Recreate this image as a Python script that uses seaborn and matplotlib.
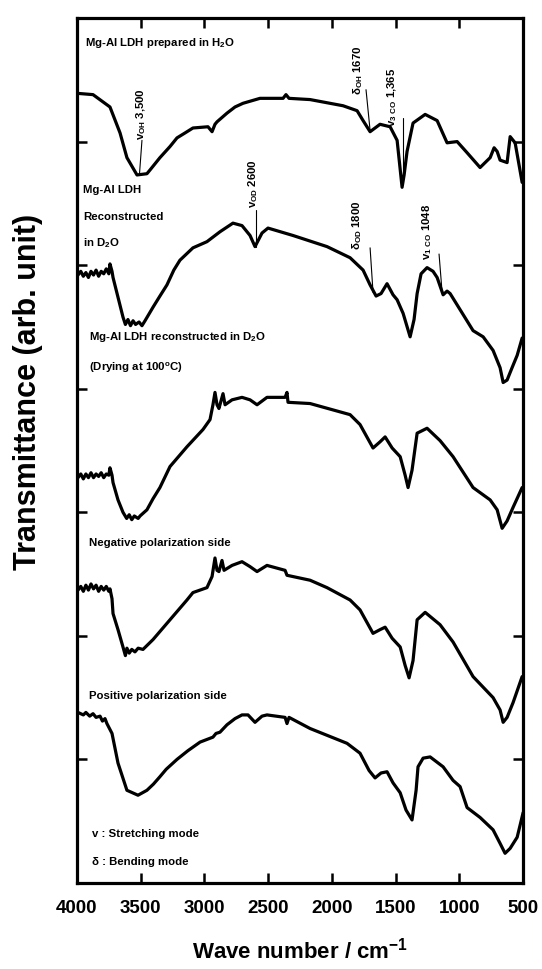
import matplotlib
matplotlib.use("Agg")
import matplotlib.pyplot as plt
import seaborn as sns

# FTIR spectra (wave number in cm-1, stacked transmittance in arb. units)
wn_h2o = [3992, 3874, 3741, 3662, 3608, 3529, 3451, 3427, 3349, 3270, 3215, 3152, 3090, 2972,
          2940, 2917, 2901, 2823, 2760, 2697, 2564, 2383, 2360, 2336, 2171, 1912, 1802, 1755,
          1700, 1622, 1543, 1488, 1449, 1433, 1410, 1363, 1268, 1174, 1096, 1017, 939, 837,
          758, 727, 703, 680, 625, 601, 562, 507]
tr_h2o = [6.39, 6.38, 6.28, 6.07, 5.87, 5.73, 5.74, 5.77, 5.87, 5.96, 6.03, 6.07, 6.11, 6.12,
          6.08, 6.14, 6.16, 6.23, 6.28, 6.31, 6.35, 6.35, 6.38, 6.35, 6.34, 6.29, 6.25, 6.17,
          6.08, 6.14, 6.12, 6.01, 5.63, 5.73, 5.92, 6.15, 6.22, 6.17, 5.99, 6.00, 5.91, 5.79,
          5.87, 5.95, 5.92, 5.85, 5.83, 6.04, 5.99, 5.67]

wn_d2o = [3992, 3970, 3950, 3930, 3910, 3890, 3870, 3850, 3830, 3810, 3790, 3770, 3750, 3741,
          3725, 3717, 3678, 3639, 3620, 3600, 3580, 3560, 3540, 3513, 3490, 3466,
          3403, 3349, 3294, 3240, 3192, 3090, 2980, 2878, 2776, 2705, 2642, 2603, 2548, 2501, 2305,
          2038, 1857, 1755, 1700, 1653, 1614, 1567, 1520, 1488, 1441, 1386, 1355, 1331, 1300,
          1253, 1206, 1174, 1127, 1096, 1072, 994, 892, 813, 735, 680, 656, 625, 586, 546, 507]
tr_d2o = [4.92, 4.95, 4.91, 4.94, 4.90, 4.95, 4.92, 4.96, 4.91, 4.95, 4.93, 4.97, 4.93, 5.01,
          4.95, 4.90, 4.74, 4.58, 4.52, 4.56, 4.51, 4.55, 4.52, 4.54, 4.51, 4.55,
          4.66, 4.75, 4.84, 4.96, 5.04, 5.14, 5.19, 5.27, 5.34, 5.32, 5.24, 5.15, 5.26, 5.30, 5.24,
          5.15, 5.06, 4.96, 4.84, 4.75, 4.77, 4.85, 4.76, 4.72, 4.61, 4.42, 4.56, 4.77, 4.93,
          4.98, 4.95, 4.90, 4.76, 4.79, 4.77, 4.64, 4.47, 4.42, 4.31, 4.17, 4.05, 4.07, 4.17, 4.27, 4.41]

wn_dried = [3992, 3970, 3950, 3930, 3910, 3890, 3870, 3850, 3830, 3810, 3790, 3770, 3750, 3741,
            3725, 3717, 3678, 3639, 3610, 3590, 3570, 3550, 3520, 3505, 3451, 3403,
            3349, 3270, 3137, 3011, 2956, 2933, 2917, 2901, 2886, 2854, 2838, 2783, 2705, 2642,
            2587, 2509, 2367, 2352, 2344, 2171, 1857, 1779, 1677, 1622, 1582, 1527, 1464, 1425,
            1402, 1371, 1331, 1253, 1151, 1049, 892, 758, 703, 664, 625, 578, 507]
tr_dried = [3.28, 3.31, 3.27, 3.31, 3.28, 3.32, 3.28, 3.31, 3.29, 3.32, 3.28, 3.31, 3.30, 3.36,
            3.30, 3.24, 3.10, 3.00, 2.95, 2.98, 2.94, 2.97, 2.95, 2.97, 3.02, 3.11,
            3.20, 3.37, 3.53, 3.67, 3.75, 3.87, 3.97, 3.87, 3.84, 3.96, 3.87, 3.91, 3.93, 3.91,
            3.87, 3.93, 3.93, 3.97, 3.89, 3.88, 3.79, 3.71, 3.52, 3.57, 3.61, 3.52, 3.45, 3.30,
            3.20, 3.34, 3.64, 3.68, 3.58, 3.45, 3.20, 3.10, 3.02, 2.87, 2.93, 3.04, 3.20]

wn_neg = [3992, 3970, 3950, 3930, 3910, 3890, 3870, 3850, 3830, 3810, 3790, 3770, 3750, 3741,
          3725, 3717, 3678, 3639, 3620, 3608, 3590, 3570, 3545, 3520, 3482, 3403,
          3270, 3137, 3090, 2980, 2940, 2917, 2901, 2886, 2862, 2846, 2783, 2705, 2642, 2587,
          2509, 2367, 2352, 2171, 2038, 1857, 1779, 1677, 1622, 1582, 1527, 1464, 1425, 1394,
          1363, 1331, 1268, 1151, 1049, 892, 735, 680, 656, 625, 578, 507]
tr_neg = [2.37, 2.40, 2.36, 2.41, 2.37, 2.42, 2.38, 2.41, 2.36, 2.40, 2.37, 2.40, 2.36, 2.38,
          2.30, 2.18, 2.05, 1.91, 1.84, 1.90, 1.86, 1.89, 1.87, 1.90, 1.89, 1.97,
          2.13, 2.29, 2.35, 2.39, 2.48, 2.63, 2.53, 2.52, 2.61, 2.53, 2.57, 2.60, 2.56, 2.52,
          2.57, 2.53, 2.49, 2.45, 2.39, 2.29, 2.21, 2.02, 2.05, 2.07, 1.98, 1.91, 1.76, 1.66,
          1.80, 2.13, 2.19, 2.09, 1.95, 1.67, 1.50, 1.40, 1.30, 1.34, 1.46, 1.67]

wn_pos = [3992, 3950, 3930, 3900, 3874, 3850, 3819, 3800, 3780, 3765, 3725, 3678, 3608, 3521,
          3451, 3400, 3349, 3300, 3215, 3130, 3034, 2933, 2909,
          2878, 2823, 2760, 2705, 2658, 2603, 2548, 2509, 2367, 2352, 2336, 2171, 1881, 1779,
          1708, 1661, 1614, 1567, 1520, 1464, 1418, 1371, 1339, 1324, 1284, 1229, 1127, 1049,
          994, 939, 837, 735, 680, 641, 601, 546, 499]
tr_pos = [1.38, 1.36, 1.38, 1.35, 1.37, 1.34, 1.35, 1.31, 1.33, 1.29, 1.21, 0.97, 0.75, 0.71,
          0.75, 0.80, 0.86, 0.92, 1.00, 1.07, 1.14, 1.18, 1.21,
          1.22, 1.28, 1.33, 1.36, 1.36, 1.30, 1.35, 1.36, 1.34, 1.29, 1.34, 1.25, 1.13, 1.05,
          0.91, 0.85, 0.89, 0.90, 0.81, 0.73, 0.59, 0.51, 0.75, 0.94, 1.01, 1.02, 0.94, 0.83,
          0.78, 0.61, 0.53, 0.43, 0.32, 0.24, 0.28, 0.37, 0.57]

spectra = [(wn_h2o, tr_h2o), (wn_d2o, tr_d2o), (wn_dried, tr_dried),
           (wn_neg, tr_neg), (wn_pos, tr_pos)]

x_ticks = [4000, 3500, 3000, 2500, 2000, 1500, 1000, 500]
y_ticks = [1, 2, 3, 4, 5, 6]

sns.set_style("ticks")
plt.rcParams["font.family"] = ["Liberation Sans", "DejaVu Sans"]
plt.rcParams["font.weight"] = "bold"
plt.rcParams["mathtext.default"] = "regular"
plt.rcParams["text.color"] = "black"
plt.rcParams["axes.labelcolor"] = "black"
plt.rcParams["xtick.color"] = "black"
plt.rcParams["ytick.color"] = "black"
plt.rcParams["axes.edgecolor"] = "black"

fig = plt.figure(figsize=(5.42, 9.69), dpi=100)
ax = fig.add_axes([0.142, 0.0888, 0.823, 0.8926])

for wn, tr in spectra:
    sns.lineplot(x=wn, y=tr, color="black", linewidth=2.3, sort=False,
                 estimator=None, ax=ax)

ax.set_xlim(4000, 500)
ax.set_ylim(0, 7)
ax.set_xticks(x_ticks)
ax.set_xticklabels([str(t) for t in x_ticks])
ax.set_yticks(y_ticks)
ax.set_yticklabels([])
ax.tick_params(axis="both", direction="in", length=7, width=1.8,
               top=True, right=True, labelsize=13.5, pad=12)
for s in ax.spines.values():
    s.set_linewidth(2.3)
    s.set_color("black")
    s.set_visible(True)

ax.set_xlabel("Wave number / cm$^{-1}$", fontsize=16, fontweight="bold", labelpad=15)
ax.set_ylabel("Transmittance (arb. unit)", fontsize=22, fontweight="bold")
ax.yaxis.set_label_coords(-0.076, 0.568)

# sample labels
fs = 8.2
ax.text(3937, 6.80, "Mg-Al LDH prepared in H$_2$O", fontsize=fs, va="center")
ax.text(3953, 5.61, "Mg-Al LDH", fontsize=fs, va="center")
ax.text(3953, 5.39, "Reconstructed", fontsize=fs, va="center")
ax.text(3953, 5.18, "in D$_2$O", fontsize=fs, va="center")
ax.text(3906, 4.42, "Mg-Al LDH reconstructed in D$_2$O", fontsize=fs, va="center")
ax.text(3906, 4.17, "(Drying at 100$^o$C)", fontsize=fs, va="center")
ax.text(3906, 2.75, "Negative polarization side", fontsize=fs, va="center")
ax.text(3906, 1.51, "Positive polarization side", fontsize=fs, va="center")
ax.text(3882, 0.40, "v : Stretching mode", fontsize=fs, va="center")
ax.text(3882, 0.17, "δ : Bending mode", fontsize=fs, va="center")

# peak assignments: marker line + rotated label
peaks = [
    ((3510, 3490), (5.73, 6.01), 3495, 6.01, "v$_{OH}$ 3,500"),
    ((2595, 2595), (5.15, 5.45), 2620, 5.46, "v$_{OD}$ 2600"),
    ((1700, 1732), (6.09, 6.42), 1794, 6.38, "δ$_{OH}$ 1670"),
    ((1441, 1441), (5.75, 6.19), 1527, 6.12, "v$_{3\\ CO}$ 1,365"),
    ((1677, 1700), (4.78, 5.14), 1802, 5.12, "δ$_{OD}$ 1800"),
    ((1135, 1159), (4.78, 5.09), 1253, 5.04, "v$_{1\\ CO}$ 1048"),
]
for lx, ly, tx, ty, label in peaks:
    ax.plot(lx, ly, color="black", linewidth=0.8)
    ax.text(tx, ty, label, fontsize=fs, rotation=90, ha="center", va="bottom")

fig.savefig("out.png", dpi=100)
